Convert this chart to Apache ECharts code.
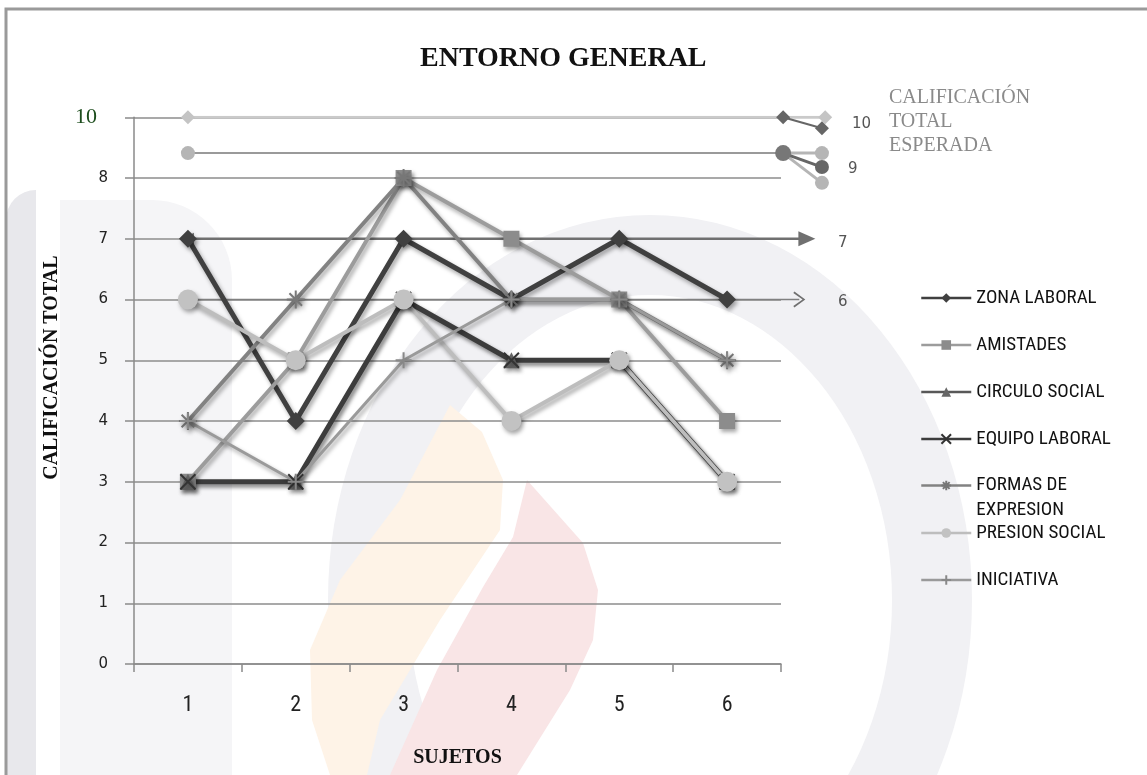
<!DOCTYPE html>
<html>
<head>
<meta charset="utf-8">
<script src="https://cdn.jsdelivr.net/npm/echarts@6/dist/echarts.min.js"></script>
<style>html,body{margin:0;padding:0;background:#fff;}#c{width:1147px;height:775px;}</style>
</head>
<body>
<div id="c"></div>
<script>
// ---- data ----
const categories = ['1', '2', '3', '4', '5', '6'];
const yTickValues = [0, 1, 2, 3, 4, 5, 6, 7, 8, 9];
const yTickLabels = ['0', '1', '2', '3', '4', '5', '6', '7', '8', '10'];
const zonaLaboral = [7, 4, 7, 6, 7, 6];
const amistades = [3, 5, 8, 7, 6, 4];
const circuloSocial = [3, 3, 6, 5, 5, 3];
const equipoLaboral = [3, 3, 6, 5, 5, 3];
const formasExpresion = [4, 6, 8, 6, 6, 5];
const presionSocial = [6, 5, 6, 4, 5, 3];
const iniciativa = [4, 3, 5, 6, 6, 5];
// reference lines (x in category units, y on the same value scale)
const expectedLine = [[1, 9], [6.91, 9]];
const expectedDark = [[6.52, 9], [6.88, 8.82]];
const nineLine = [[1, 8.41], [6.52, 8.41]];
const nineBranchA = [[6.52, 8.41], [6.88, 8.41]];
const nineBranchB = [[6.52, 8.41], [6.88, 8.18]];
const nineBranchC = [[6.52, 8.41], [6.88, 7.92]];
const arrow7 = [[1, 7], [6.74, 7]];
const arrow6 = [[1, 6], [6.67, 6]];

const SERIF = '"Liberation Serif", "DejaVu Serif", serif';
const COND = '"Liberation Sans Narrow", "Roboto Condensed", "Open Sans", sans-serif';
const shadow = { shadowColor: 'rgba(0,0,0,0.35)', shadowBlur: 4, shadowOffsetX: 2, shadowOffsetY: 3 };
const X_PATH = 'path://M0,0L10,10M10,0L0,10';
const AST_PATH = 'path://M5,0L5,10M0,5L10,5M1.5,1.5L8.5,8.5M8.5,1.5L1.5,8.5';
const PLUS_PATH = 'path://M5,0L5,10M0,5L10,5';
const CHEV_PATH = 'path://M0,10L5,0L10,10L9,11L5,2.5L1,11Z';

function mainSeries(name, data, color, width, symbol, size, itemColor, stroke) {
  const itemStyle = stroke
    ? Object.assign({ color: itemColor, borderColor: itemColor, borderWidth: 2 }, shadow)
    : Object.assign({ color: itemColor }, shadow);
  return {
    name, type: 'line', data, symbol, symbolSize: size,
    lineStyle: Object.assign({ color, width }, shadow),
    itemStyle, emphasis: { disabled: true }, animation: false, z: 3
  };
}
function refSeries(data, color, width, symbol, size, symColor, extra) {
  return Object.assign({
    type: 'line', xAxisIndex: 1, yAxisIndex: 1, data, symbol, symbolSize: size,
    showSymbol: true, silent: true, animation: false,
    lineStyle: { color, width }, itemStyle: { color: symColor || color }, z: 2
  }, extra || {});
}

const series = [
  mainSeries('ZONA LABORAL', zonaLaboral, '#404040', 5, 'diamond', 18, '#404040'),
  mainSeries('AMISTADES', amistades, '#9c9c9c', 4, 'rect', 16, '#8c8c8c'),
  mainSeries('CIRCULO SOCIAL', circuloSocial, '#585858', 3, 'triangle', 16, '#666666'),
  mainSeries('EQUIPO LABORAL', equipoLaboral, '#3c3c3c', 5, X_PATH, 15, '#333333', true),
  mainSeries('FORMAS DE EXPRESION', formasExpresion, '#828282', 4, AST_PATH, 18, '#777777', true),
  mainSeries('PRESION SOCIAL', presionSocial, '#bdbdbd', 4, 'circle', 20, '#c2c2c2'),
  mainSeries('INICIATIVA', iniciativa, '#9a9a9a', 3, PLUS_PATH, 16, '#888888', true),
  refSeries(expectedLine, '#cacaca', 3, 'diamond', 14, '#c4c4c4'),
  refSeries(expectedDark, '#666666', 2, 'diamond', 14, '#666666'),
  refSeries(nineLine, '#9a9a9a', 2, 'circle', 14, '#b0b0b0', {
    data: [{ value: nineLine[0], itemStyle: { color: '#b5b5b5' } }, { value: nineLine[1], symbolSize: 16, itemStyle: { color: '#777777' } }]
  }),
  refSeries(nineBranchA, '#b5b5b5', 3, 'circle', 14, '#b5b5b5', { data: [{ value: nineBranchA[0], symbol: 'none' }, { value: nineBranchA[1] }] }),
  refSeries(nineBranchC, '#b5b5b5', 3, 'circle', 14, '#b5b5b5', { data: [{ value: nineBranchC[0], symbol: 'none' }, { value: nineBranchC[1] }] }),
  refSeries(nineBranchB, '#666666', 3, 'circle', 14, '#666666', { data: [{ value: nineBranchB[0], symbol: 'none' }, { value: nineBranchB[1] }] }),
  refSeries(arrow7, '#707070', 2.5, 'triangle', 14, '#707070', {
    data: [{ value: arrow7[0], symbolRotate: 90, symbolSize: [12, 12] }, { value: arrow7[1], symbolRotate: -90, symbolSize: [15, 17] }]
  }),
  refSeries(arrow6, '#808080', 1.5, CHEV_PATH, 14, '#707070', {
    data: [{ value: arrow6[0], symbol: 'none' }, { value: arrow6[1], symbolRotate: -90, symbolSize: [16, 12] }]
  })
];

const legendText = { fontFamily: COND, fontSize: 19, color: '#111', lineHeight: 20 };
const legendCommon = {
  orient: 'vertical', left: 915, itemWidth: 50, itemHeight: 12,
  textStyle: legendText, lineStyle: { width: 2.5 }, selectedMode: false
};

const option = {
  backgroundColor: '#ffffff',
  animation: false,
  title: {
    text: 'ENTORNO GENERAL', top: 45, left: 420, padding: 0,
    textStyle: { fontFamily: SERIF, fontWeight: 'bold', fontSize: 28, color: '#111' }
  },
  legend: [
    Object.assign({}, legendCommon, { top: 283, itemGap: 27, data: ['ZONA LABORAL', 'AMISTADES', 'CIRCULO SOCIAL', 'EQUIPO LABORAL'] }),
    Object.assign({}, legendCommon, {
      top: 443, data: ['FORMAS DE EXPRESION'],
      formatter: () => '\nFORMAS DE\nEXPRESION',
      textStyle: Object.assign({}, legendText, { lineHeight: 25 })
    }),
    Object.assign({}, legendCommon, { top: 518, itemGap: 27, data: ['PRESION SOCIAL', 'INICIATIVA'] })
  ],
  grid: [
    { left: 134, top: 117.25, width: 647, height: 546.75, containLabel: false },
    { left: 134, top: 117.25, width: 754.8, height: 546.75, containLabel: false }
  ],
  xAxis: [
    {
      type: 'category', data: categories, gridIndex: 0, boundaryGap: true,
      name: 'SUJETOS', nameLocation: 'middle', nameGap: 84,
      nameTextStyle: { fontFamily: SERIF, fontWeight: 'bold', fontSize: 20, color: '#111' },
      axisLine: { lineStyle: { color: '#8a8a8a', width: 1.5 } },
      axisTick: { show: true, length: 8, lineStyle: { color: '#8a8a8a', width: 1.5 } },
      axisLabel: { fontFamily: COND, fontSize: 22, color: '#222', margin: 30 },
      splitLine: { show: false }
    },
    { type: 'value', gridIndex: 1, min: 0.5, max: 7.5, show: false }
  ],
  yAxis: [
    {
      type: 'value', gridIndex: 0, min: 0, max: 9, interval: 1,
      name: 'CALIFICACIÓN TOTAL', nameLocation: 'middle', nameGap: 72, nameRotate: 90,
      nameTextStyle: { fontFamily: SERIF, fontWeight: 'bold', fontSize: 20, color: '#111', padding: [0, 0, 0, 46] },
      axisLine: { show: true, lineStyle: { color: '#8a8a8a', width: 1.5 } },
      axisTick: { show: true, length: 9, lineStyle: { color: '#8a8a8a', width: 1.5 } },
      axisLabel: {
        margin: 26, fontFamily: '"DejaVu Sans", sans-serif', fontSize: 15, color: '#222',
        formatter: (v) => {
          const i = yTickValues.indexOf(v);
          const t = i >= 0 ? yTickLabels[i] : '';
          return v === 9 ? '{g|' + t + '}' : t;
        },
        rich: { g: { fontFamily: SERIF, fontSize: 22, color: '#1d4d1d', padding: [0, 11, 0, 0] } }
      },
      splitLine: { show: true, lineStyle: { color: '#8c8c8c', width: 1.5 } }
    },
    { type: 'value', gridIndex: 1, min: 0, max: 9, show: false }
  ],
  graphic: [
    // faint watermark
    { type: 'rect', silent: true, z: -10, shape: { x: 6, y: 190, width: 30, height: 600, r: [30, 0, 0, 0] }, style: { fill: '#e8e8ec' } },
    { type: 'rect', silent: true, z: -10, shape: { x: 60, y: 200, width: 172, height: 600, r: [0, 80, 0, 0] }, style: { fill: '#f5f5f7' } },
    { type: 'ellipse', silent: true, z: -10, shape: { cx: 650, cy: 600, rx: 282, ry: 345 }, style: { fill: 'none', stroke: '#f1f1f4', lineWidth: 80 } },
    { type: 'polygon', silent: true, z: -9, shape: { points: [[450, 405], [482, 432], [503, 480], [500, 530], [440, 620], [380, 720], [367, 775], [330, 775], [312, 720], [310, 650], [340, 580], [400, 500]] }, style: { fill: '#fef3e7' } },
    { type: 'polygon', silent: true, z: -9, shape: { points: [[527, 480], [583, 543], [598, 590], [593, 640], [570, 690], [517, 775], [390, 775], [437, 670], [483, 587], [513, 537]] }, style: { fill: '#f9e5e6' } },
    // frame
    { type: 'polyline', silent: true, z: 10, shape: { points: [[6, 775], [6, 9], [1147, 9]] }, style: { stroke: '#9a9a9a', lineWidth: 3, fill: 'none' } },
    // right-hand annotations
    { type: 'text', silent: true, z: 10, left: 852, top: 117, style: { text: '10', fontFamily: '"DejaVu Sans", sans-serif', fontSize: 15, fill: '#555' } },
    { type: 'text', silent: true, z: 10, left: 848, top: 162, style: { text: '9', fontFamily: '"DejaVu Sans", sans-serif', fontSize: 15, fill: '#555' } },
    { type: 'text', silent: true, z: 10, left: 838, top: 236, style: { text: '7', fontFamily: '"DejaVu Sans", sans-serif', fontSize: 15, fill: '#555' } },
    { type: 'text', silent: true, z: 10, left: 838, top: 295, style: { text: '6', fontFamily: '"DejaVu Sans", sans-serif', fontSize: 15, fill: '#555' } },
    { type: 'text', silent: true, z: 10, left: 889, top: 86, style: { text: 'CALIFICACIÓN\nTOTAL\nESPERADA', fontFamily: SERIF, fontSize: 20, lineHeight: 24, fill: '#8a8a8a' } }
  ],
  series
};

const chart = echarts.init(document.getElementById('c'), null, { renderer: 'canvas' });
chart.setOption(option);
</script>
</body>
</html>
